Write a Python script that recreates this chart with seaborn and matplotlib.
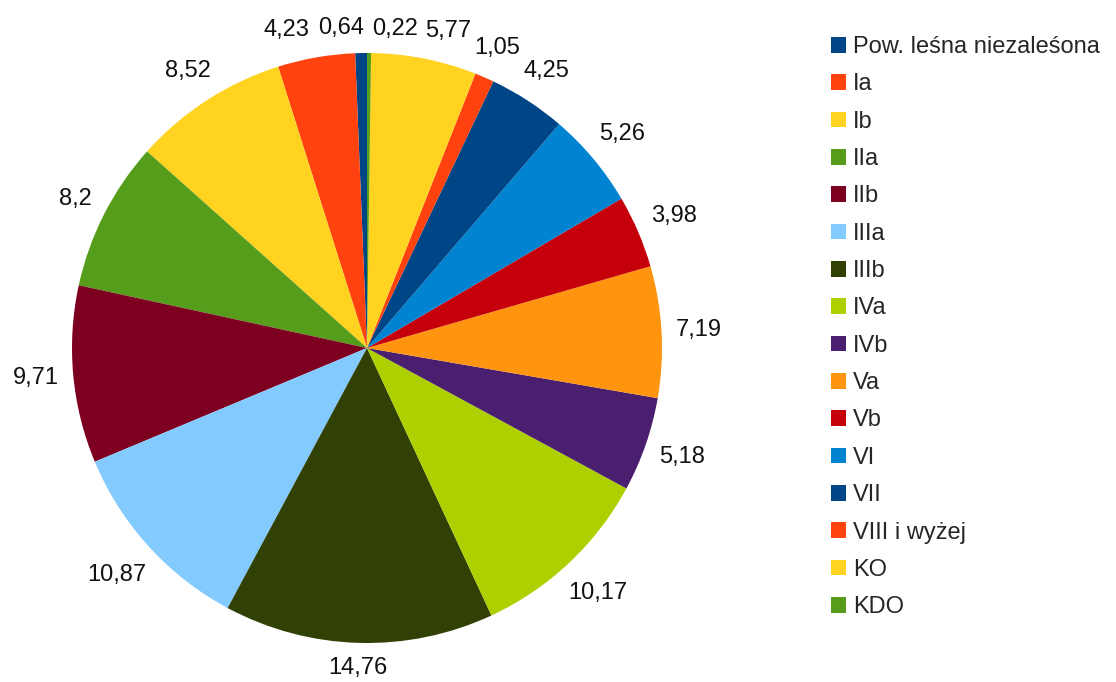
import matplotlib
matplotlib.use("Agg")
import matplotlib.pyplot as plt
import seaborn as sns
import numpy as np

categories = ["Pow. leśna niezaleśona", "Ia", "Ib", "IIa", "IIb", "IIIa", "IIIb", "IVa",
              "IVb", "Va", "Vb", "VI", "VII", "VIII i wyżej", "KO", "KDO"]
shares = [0.64, 4.23, 8.52, 8.2, 9.71, 10.87, 14.76, 10.17,
          5.18, 7.19, 3.98, 5.26, 4.25, 1.05, 5.77, 0.22]
value_labels = ["0,64", "4,23", "8,52", "8,2", "9,71", "10,87", "14,76", "10,17",
                "5,18", "7,19", "3,98", "5,26", "4,25", "1,05", "5,77", "0,22"]
colors = ["#004586", "#ff420e", "#ffd320", "#579d1c", "#7e0021", "#83caff", "#314004", "#aecf00",
          "#4b1f6f", "#ff950e", "#c5000b", "#0084d1", "#004586", "#ff420e", "#ffd320", "#579d1c"]

sns.set_theme(style="white")
plt.rcParams['font.family'] = ['Liberation Sans', 'DejaVu Sans']

W, H = 1116, 682
cx, cy, r = 367, 348, 295
fig = plt.figure(figsize=(W / 100, H / 100), dpi=100)
ax = fig.add_axes([(cx - r) / W, (H - cy - r) / H, 2 * r / W, 2 * r / H])
wedges, _ = ax.pie(shares, colors=colors, startangle=90, counterclock=True,
                   wedgeprops=dict(linewidth=0))
ax.set_xlim(-1, 1)
ax.set_ylim(-1, 1)
ax.axis('off')

# value labels just outside each slice (1 data unit == r pixels)
fig.canvas.draw()
renderer = fig.canvas.get_renderer()
texts, boxes = [], []
for w, lab in zip(wedges, value_labels):
    ang = np.deg2rad((w.theta1 + w.theta2) / 2)
    t = ax.text(0, 0, lab, ha='center', va='center', fontsize=17, color='#111111')
    bb = t.get_window_extent(renderer)
    hw, hh = bb.width / 2 / r, bb.height / 2 / r
    d = 1.045 + abs(np.cos(ang)) * hw + abs(np.sin(ang)) * hh
    texts.append(t)
    boxes.append([d * np.cos(ang), d * np.sin(ang), hw, hh * 0.75])

# push overlapping labels apart sideways
gap = 8 / r
for _ in range(60):
    moved = False
    for i in range(len(boxes)):
        for j in range(i + 1, len(boxes)):
            xi, yi, wi, hi = boxes[i]
            xj, yj, wj, hj = boxes[j]
            if abs(yi - yj) < hi + hj:
                ov = wi + wj + gap - abs(xi - xj)
                if ov > 1e-4:
                    s = 1 if xi < xj else -1
                    boxes[i][0] -= s * ov / 2
                    boxes[j][0] += s * ov / 2
                    moved = True
    if not moved:
        break
for t, b in zip(texts, boxes):
    t.set_position((b[0], b[1]))

fig.legend(wedges, categories, loc='upper left', bbox_to_anchor=(831 / W, 1 - 36 / H),
           frameon=False, fontsize=17, handlelength=0.64, handleheight=0.64,
           handletextpad=0.3, labelspacing=0.65, borderpad=0, borderaxespad=0)

fig.savefig("out.png", dpi=100)
